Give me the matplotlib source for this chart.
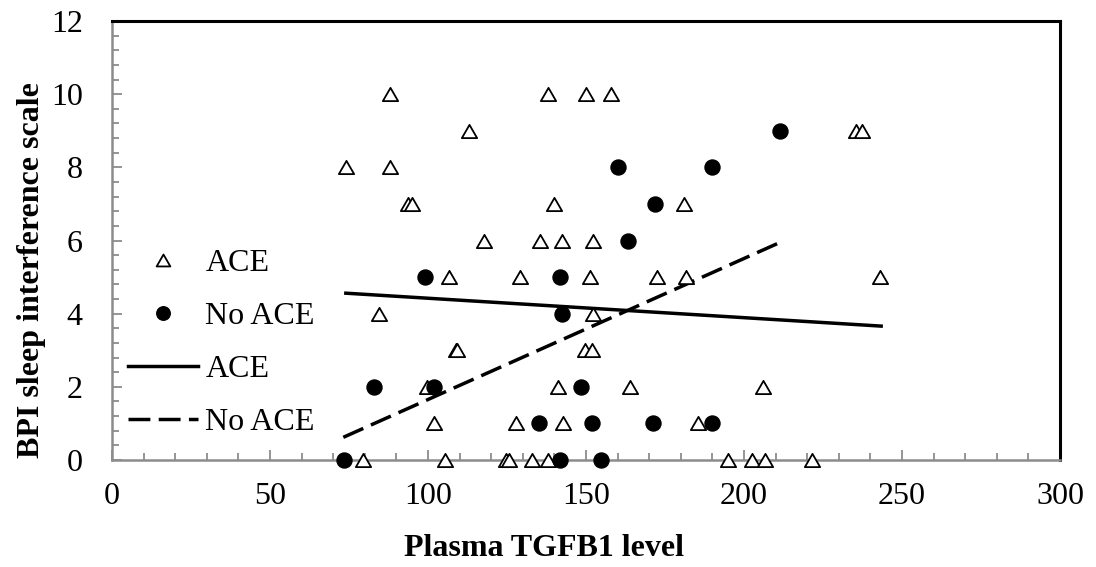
import matplotlib
matplotlib.use("Agg")
import matplotlib.pyplot as plt
from matplotlib.ticker import MultipleLocator
from matplotlib.path import Path

plt.rcParams['font.family'] = ['Liberation Serif', 'DejaVu Serif']

# ACE (open triangles)
ace_x = [88, 138, 150, 158,
         113, 235.6, 237.2,
         74, 88,
         93.8, 94.8, 140, 181,
         117.8, 135.4, 142.3, 152.1,
         106.5, 129.1, 151.3, 172.4, 181.6, 243,
         84.6, 152.3,
         108.8, 109.2, 149.7, 152,
         99.6, 141.2, 163.9, 206.1,
         101.9, 127.8, 142.8, 185.5,
         79.3, 105.4, 124.6, 125.6, 132.8, 138.1, 195, 202.4, 206.6, 221.4]
ace_y = [10, 10, 10, 10,
         9, 9, 9,
         8, 8,
         7, 7, 7, 7,
         6, 6, 6, 6,
         5, 5, 5, 5, 5, 5,
         4, 4,
         3, 3, 3, 3,
         2, 2, 2, 2,
         1, 1, 1, 1,
         0, 0, 0, 0, 0, 0, 0, 0, 0, 0]

# No ACE (filled circles)
noace_x = [211.4, 160, 190, 171.8, 163.4, 99, 141.8, 142.5, 82.9, 101.9, 148.3,
           135.2, 151.8, 171.1, 190, 73.4, 141.8, 154.7]
noace_y = [9, 8, 8, 7, 6, 5, 5, 4, 2, 2, 2,
           1, 1, 1, 1, 0, 0, 0]

# Linear trend lines (endpoints)
ace_trend_x = [74, 243.4]
ace_trend_y = [4.56, 3.66]
noace_trend_x = [73.2, 211.2]
noace_trend_y = [0.62, 5.94]

fig = plt.figure(figsize=(10.96, 5.67), dpi=100)
ax = fig.add_axes([112/1096, 1 - 460/567, (1060-112)/1096, (460-21)/567])

tri = Path([(-1, -0.866), (1, -0.866), (0, 0.866), (-1, -0.866)],
           [Path.MOVETO, Path.LINETO, Path.LINETO, Path.CLOSEPOLY])
ax.plot(ace_x, ace_y, linestyle='none', marker=tri, markersize=11,
        markerfacecolor='white', markeredgecolor='black', markeredgewidth=1.3,
        label='ACE', clip_on=False, zorder=3)
ax.plot(noace_x, noace_y, linestyle='none', marker='o', markersize=10.8,
        markerfacecolor='black', markeredgecolor='black',
        label='No ACE', clip_on=False, zorder=3)
ax.plot(ace_trend_x, ace_trend_y, color='black', linewidth=2.5, label='ACE', zorder=2)
ax.plot(noace_trend_x, noace_trend_y, color='black', linewidth=2.5,
        linestyle=(0, (6.3, 2.4)), label='No ACE', zorder=2)

ax.set_xlim(0, 300)
ax.set_ylim(0, 12)
ax.xaxis.set_major_locator(MultipleLocator(50))
ax.xaxis.set_minor_locator(MultipleLocator(10))
ax.yaxis.set_major_locator(MultipleLocator(2))
ax.yaxis.set_minor_locator(MultipleLocator(0.4))

gray = '#8c8c8c'
for s in ['left', 'bottom']:
    ax.spines[s].set_color(gray)
    ax.spines[s].set_linewidth(1.8)
for s in ['top', 'right']:
    ax.spines[s].set_color('black')
    ax.spines[s].set_linewidth(2.2)

ax.tick_params(axis='both', which='both', direction='in', color=gray, width=1.3,
               labelsize=23, top=False, right=False)
ax.tick_params(axis='both', which='major', length=7)
ax.tick_params(axis='both', which='minor', length=5)
ax.tick_params(axis='y', which='major', pad=21)
ax.tick_params(axis='x', which='major', pad=16)

fig.text(544/1096, 1 - 548/567, 'Plasma TGFB1 level', fontsize=23, fontweight='bold',
         ha='center', va='center')
fig.text(32/1096, 1 - 270/567, 'BPI sleep interference scale', fontsize=23,
         fontweight='bold', rotation=90, ha='center', va='center')

leg = ax.legend(loc='center left', bbox_to_anchor=(16/948, (460-342.5)/439),
                frameon=False, fontsize=23, borderpad=0, borderaxespad=0,
                handlelength=2.2, handletextpad=0.22, labelspacing=0.74,
                markerscale=0.9)

fig.savefig('out.png', dpi=100)
